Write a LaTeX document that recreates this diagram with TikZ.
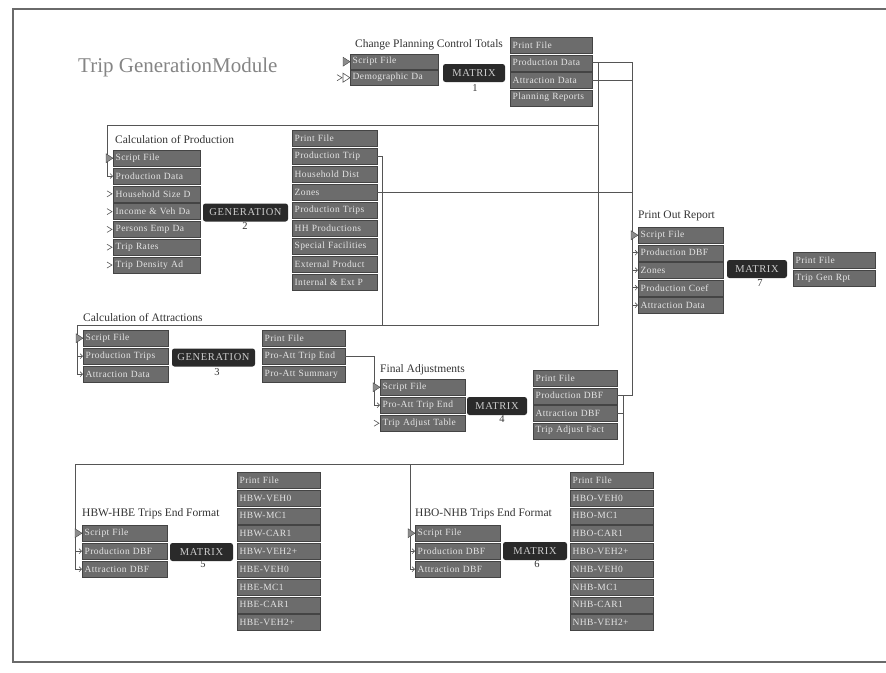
\documentclass[tikz,border=0pt]{standalone}
\usepackage{fontspec}
\setmainfont{Liberation Serif}
\usetikzlibrary{arrows.meta}
\definecolor{boxfill}{HTML}{6C6C6C}
\definecolor{boxedge}{HTML}{444444}
\definecolor{boxtext}{HTML}{E4E4E4}
\definecolor{procfill}{HTML}{2A2A2A}
\definecolor{proctext}{HTML}{CDCDCD}
\definecolor{trigray}{HTML}{8C8C8C}
\definecolor{labelgray}{HTML}{333333}
\definecolor{titlegray}{HTML}{858585}
\definecolor{wiregray}{HTML}{555555}
\definecolor{framegray}{HTML}{6A6A6A}
\tikzset{
  port/.style={rectangle, draw=boxedge, fill=boxfill, text=boxtext,
    font=\fontsize{9.5}{10}\selectfont\addfontfeatures{LetterSpace=4},
    anchor=north west, inner xsep=2.5pt, inner ysep=0pt,
    minimum height=16pt, text width=#1, align=left},
  proc/.style={rectangle, rounded corners=2.5pt, fill=procfill, text=proctext,
    font=\fontsize{10.5}{11}\selectfont\addfontfeatures{LetterSpace=6},
    minimum width=#1, minimum height=18pt, inner sep=1pt},
  grouplabel/.style={anchor=base west, text=labelgray, inner sep=0pt,
    font=\fontsize{11.5}{13}\selectfont},
  procnum/.style={text=labelgray, inner sep=0pt, font=\fontsize{10.5}{11}\selectfont},
  wire/.style={draw=wiregray, line width=0.6pt},
  feed/.style={wire, -{Straight Barb[length=2.5pt,width=5pt]}},
}
\begin{document}
\begin{tikzpicture}[x=1pt,y=-1pt]
  \useasboundingbox (0,0) rectangle (886,672);
  % Frame and title
  \draw[framegray, line width=1.3pt] (13,9) rectangle (892,662);
  \node[anchor=base west, text=titlegray, inner sep=0pt,
    font=\fontsize{21}{24}\selectfont] (title) at (78,72) {Trip GenerationModule};
  % Change Planning Control Totals
  \node[grouplabel] (g1lbl) at (355,47) {Change Planning Control Totals};
  \foreach \t [count=\i] in {Script File,Demographic Da}
    \node[port=83pt, minimum height=15pt] (g1i\i) at (350,{54+16*(\i-1)}) {\t};
  \node[proc=62pt] (g1m) at (474,73) {MATRIX};
  \node[procnum] (g1n) at (475,88) {1};
  \foreach \t [count=\i] in {Print File,Production Data,Attraction Data,Planning Reports}
    \node[port=77pt] (g1o\i) at (510,{37+17.5*(\i-1)}) {\t};
  % Calculation of Production
  \node[grouplabel] (g2lbl) at (115,143) {Calculation of Production};
  \foreach \t [count=\i] in {Script File,Production Data,Household Size D,Income \& Veh Da,Persons Emp Da,Trip Rates,Trip Density Ad}
    \node[port=82pt] (g2i\i) at (113,{150+17.8*(\i-1)}) {\t};
  \node[proc=85pt] (g2m) at (245.5,212.5) {GENERATION};
  \node[procnum] (g2n) at (245,226) {2};
  \foreach \t [count=\i] in {Print File,Production Trip,Household Dist,Zones,Production Trips,HH Productions,Special Facilities,External Product,Internal \& Ext P}
    \node[port=80pt] (g2o\i) at (292,{130+18*(\i-1)}) {\t};
  % Calculation of Attractions
  \node[grouplabel] (g3lbl) at (83,321) {Calculation of Attractions};
  \foreach \t [count=\i] in {Script File,Production Trips,Attraction Data}
    \node[port=80pt] (g3i\i) at (83,{330+18*(\i-1)}) {\t};
  \node[proc=83pt] (g3m) at (213.5,357.5) {GENERATION};
  \node[procnum] (g3n) at (217,372) {3};
  \foreach \t [count=\i] in {Print File,Pro-Att Trip End,Pro-Att Summary}
    \node[port=78pt] (g3o\i) at (262,{330+18*(\i-1)}) {\t};
  % Final Adjustments
  \node[grouplabel] (g4lbl) at (380,372) {Final Adjustments};
  \foreach \t [count=\i] in {Script File,Pro-Att Trip End,Trip Adjust Table}
    \node[port=80pt] (g4i\i) at (380,{379+18*(\i-1)}) {\t};
  \node[proc=60pt] (g4m) at (497,406) {MATRIX};
  \node[procnum] (g4n) at (502,419) {4};
  \foreach \t [count=\i] in {Print File,Production DBF,Attraction DBF,Trip Adjust Fact}
    \node[port=79pt] (g4o\i) at (533,{370+17.5*(\i-1)}) {\t};
  % Print Out Report
  \node[grouplabel] (g7lbl) at (638,218) {Print Out Report};
  \foreach \t [count=\i] in {Script File,Production DBF,Zones,Production Coef,Attraction Data}
    \node[port=80pt] (g7i\i) at (638,{227+17.5*(\i-1)}) {\t};
  \node[proc=60pt] (g7m) at (757,269) {MATRIX};
  \node[procnum] (g7n) at (760,283) {7};
  \foreach \t [count=\i] in {Print File,Trip Gen Rpt}
    \node[port=77pt] (g7o\i) at (793,{252+18*(\i-1)}) {\t};
  % HBW-HBE Trips End Format
  \node[grouplabel] (g5lbl) at (82,516) {HBW-HBE Trips End Format};
  \foreach \t [count=\i] in {Script File,Production DBF,Attraction DBF}
    \node[port=80pt] (g5i\i) at (82,{525+18*(\i-1)}) {\t};
  \node[proc=63pt] (g5m) at (201.5,552) {MATRIX};
  \node[procnum] (g5n) at (203,564) {5};
  \foreach \t [count=\i] in {Print File,HBW-VEH0,HBW-MC1,HBW-CAR1,HBW-VEH2+,HBE-VEH0,HBE-MC1,HBE-CAR1,HBE-VEH2+}
    \node[port=78pt] (g5o\i) at (237,{472+17.8*(\i-1)}) {\t};
  % HBO-NHB Trips End Format
  \node[grouplabel] (g6lbl) at (415,516) {HBO-NHB Trips End Format};
  \foreach \t [count=\i] in {Script File,Production DBF,Attraction DBF}
    \node[port=80pt] (g6i\i) at (415,{525+18*(\i-1)}) {\t};
  \node[proc=64pt] (g6m) at (535,551) {MATRIX};
  \node[procnum] (g6n) at (537,564) {6};
  \foreach \t [count=\i] in {Print File,HBO-VEH0,HBO-MC1,HBO-CAR1,HBO-VEH2+,NHB-VEH0,NHB-MC1,NHB-CAR1,NHB-VEH2+}
    \node[port=78pt] (g6o\i) at (570,{472+17.8*(\i-1)}) {\t};
  % Bus lines
  \coordinate (busR) at (632,0);
  \coordinate (busM) at (598,0);
  \coordinate (busD) at (623,0);
  \coordinate (busP) at (107,0);
  \coordinate (busG) at (382,0);
  \coordinate (busA) at (77,0);
  \coordinate (busF) at (374,0);
  \coordinate (busH) at (75,0);
  \coordinate (busN) at (410,0);
  \coordinate (topP) at (0,125);
  \coordinate (topA) at (0,325);
  \coordinate (topT) at (0,464);
  % Wires
  \draw[wire] (g1o2.east) -- (busR |- g1o2.east) -- (busR |- g4o2.east) -- (g4o2.east);
  \draw[wire] (g1o3.east) -- (busR |- g1o3.east);
  \draw[wire] (g2o4.east) -- (busR |- g2o4.east);
  \draw[wire] (busM |- g1o2.east) -- (busM |- topA) -- (busA |- topA) -- (busA |- g3i3.west);
  \draw[wire] (busM |- topP) -- (busP |- topP) -- (busP |- g2i2.west);
  \draw[wire] (g2o2.east) -- (busG |- g2o2.east) -- (busG |- topA);
  \draw[wire] (g3o2.east) -- (busF |- g3o2.east) -- (busF |- g4i2.west);
  \draw[wire] (g4o3.east) -- (busD |- g4o3.east);
  \draw[wire] (busD |- g4o2.east) -- (busD |- topT) -- (busH |- topT) -- (busH |- g5i3.west);
  \draw[wire] (busN |- topT) -- (busN |- g6i3.west);
  % Input arrows
  \draw[feed] (busP |- g2i2.west) -- (g2i2.west);
  \draw[feed] (busF |- g4i2.west) -- (g4i2.west);
  \foreach \i in {2,3} {
    \draw[feed] (busA |- g3i\i.west) -- (g3i\i.west);
    \draw[feed] (busH |- g5i\i.west) -- (g5i\i.west);
    \draw[feed] (busN |- g6i\i.west) -- (g6i\i.west);
  }
  \foreach \i in {2,...,5}
    \draw[feed] (busR |- g7i\i.west) -- (g7i\i.west);
  % Open input marks
  \foreach \n in {g2i3,g2i4,g2i5,g2i6,g2i7,g4i3}
    \draw[wire] (\n.west) ++(-6,-3) -- ++(5,3) -- ++(-5,3);
  \draw[wire, fill=white] (g1i2.west) -- ++(-7,-4.5) -- ++(0,9) -- cycle;
  \draw[wire] (g1i2.west) ++(-13,-3) -- ++(5,3) -- ++(-5,3);
  % Script file marks
  \foreach \n in {g1i1,g2i1,g3i1,g4i1,g5i1,g6i1,g7i1}
    \filldraw[fill=trigray, draw=boxedge, line width=0.4pt] (\n.west) -- ++(-7,-4.5) -- ++(0,9) -- cycle;
\end{tikzpicture}
\end{document}
